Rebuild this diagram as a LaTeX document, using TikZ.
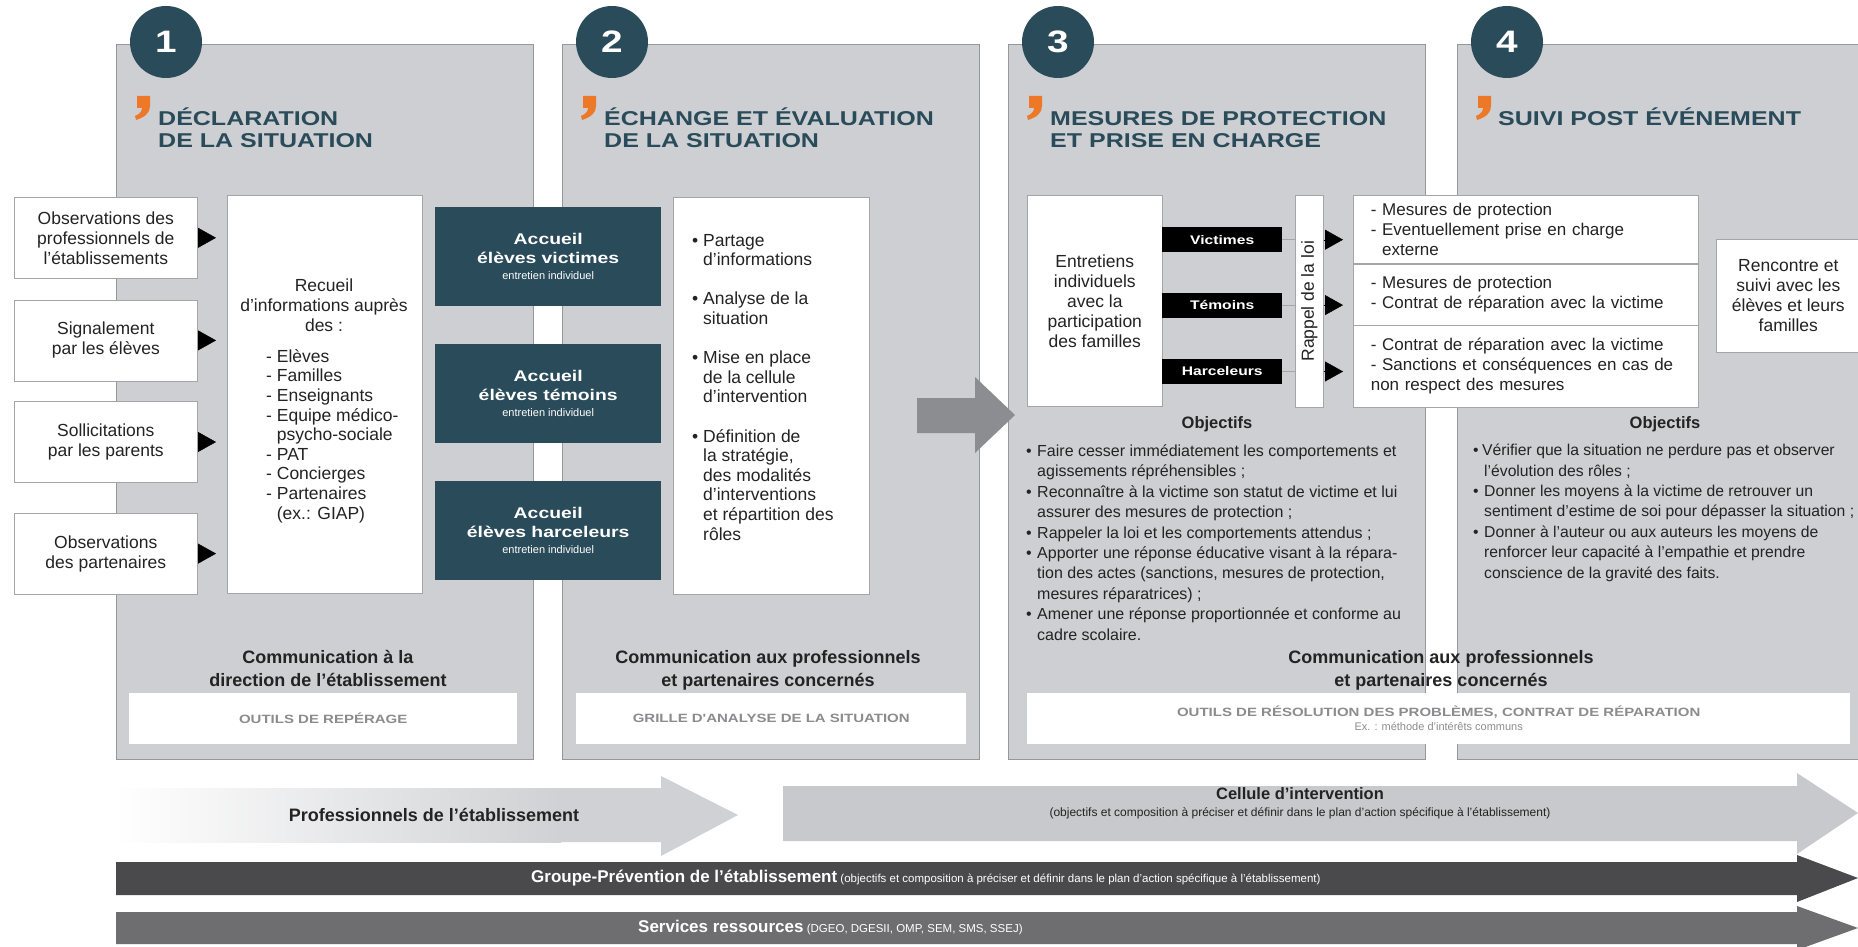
\documentclass[tikz,border=0pt]{standalone}
\usepackage{fontspec}
\setmainfont{Liberation Sans}
\newfontfamily\widefont[FakeStretch=1.25]{Liberation Sans}
\usetikzlibrary{positioning,arrows.meta}

\definecolor{panelfill}{RGB}{206,207,211}
\definecolor{panelline}{RGB}{150,151,154}
\definecolor{slate}{RGB}{42,75,90}
\definecolor{commaorange}{RGB}{236,120,40}
\definecolor{txt}{RGB}{35,35,35}
\definecolor{boxline}{RGB}{165,165,168}
\definecolor{toolgray}{RGB}{140,140,143}
\definecolor{bigarrow}{RGB}{140,141,145}
\definecolor{bandlight}{RGB}{208,209,212}
\definecolor{bandcell}{RGB}{200,201,204}
\definecolor{banddark}{RGB}{74,74,76}
\definecolor{bandmid}{RGB}{110,110,113}

\newlength{\bulw}
\setlength{\bulw}{11pt}
\newcommand{\bitem}{\makebox[\bulw][l]{\textbullet}}
\newcommand{\bcont}{\hspace*{\bulw}}

\begin{document}
\begin{tikzpicture}[x=1pt,y=-1pt,
  panel/.style={draw=panelline, fill=panelfill, line width=0.8pt, anchor=north west, minimum width=417pt, minimum height=715pt, inner sep=0pt},
  numcirc/.style={circle, fill=slate, text=white, minimum size=72pt, inner sep=0pt, font=\widefont\bfseries\fontsize{31}{31}\selectfont},
  ptitle/.style={anchor=base west, align=left, inner sep=0pt, text=slate, font=\widefont\bfseries\fontsize{20}{22}\selectfont},
  wbox/.style={draw=boxline, fill=white, line width=0.6pt, anchor=north west, inner sep=0pt, align=center, text=txt, font=\fontsize{17.5}{20}\selectfont},
  accueil/.style={fill=slate, text=white, anchor=north west, minimum width=226pt, minimum height=99pt, inner sep=0pt, align=center, font=\widefont\bfseries\fontsize{15.5}{19}\selectfont},
  rolebox/.style={fill=black, text=white, anchor=north west, minimum width=120pt, minimum height=25pt, inner sep=0pt, font=\widefont\bfseries\fontsize{12.5}{14}\selectfont},
  tri/.style={draw=black, line width=0.4pt, -{Triangle[length=18pt,width=20pt]}},
  linkline/.style={draw=gray!70, line width=0.5pt},
  toolbox/.style={fill=white, anchor=north west, minimum height=51pt, inner sep=0pt, align=center, text=toolgray, font=\widefont\bfseries\fontsize{12}{16}\selectfont},
  comm/.style={anchor=base, align=center, text=txt, font=\bfseries\fontsize{18}{23}\selectfont},
  objhead/.style={text=txt, font=\bfseries\fontsize{16.5}{20}\selectfont},
  objlist/.style={anchor=base west, align=left, inner sep=0pt, text=txt, font=\fontsize{16}{20.4}\selectfont},
  bodytext/.style={anchor=base west, align=left, inner sep=0pt, text=txt, font=\fontsize{17.5}{19.6}\selectfont},
]
\useasboundingbox (0,0) rectangle (1858,947);
\clip (0,0) rectangle (1858,947);
\fill[white] (0,0) rectangle (1858,947);

% the four steps (multi-line nodes sit on their last baseline)
\foreach \i/\x in {1/116,2/562,3/1008,4/1457}{
  \node[panel] (p\i) at (\x,44) {};
  \node[numcirc] (n\i) at (\x+50,42) {\i};
  \fill[commaorange] (\x+21,96) -- (\x+34,96) -- (\x+34,106) .. controls (\x+34,113) and (\x+29,117) .. (\x+20,120)
    -- (\x+19,116) .. controls (\x+24,114) and (\x+26,111) .. (\x+26,108) -- (\x+21,108) -- cycle;
}
\node[ptitle] (h1) at (158,148) {DÉCLARATION\\DE LA SITUATION};
\node[ptitle] (h2) at (604,148) {ÉCHANGE ET ÉVALUATION\\DE LA SITUATION};
\node[ptitle] (h3) at (1050,148) {MESURES DE PROTECTION\\ET PRISE EN CHARGE};
\node[ptitle] (h4) at (1498,126) {SUIVI POST ÉVÉNEMENT};

% step 1
\node[wbox, minimum width=183pt, minimum height=81pt] (obs) at (14,197) {Observations des\\professionnels de\\l'établissements};
\node[wbox, minimum width=183pt, minimum height=81pt, below=21pt of obs] (sig) {Signalement\\par les élèves};
\node[wbox, minimum width=183pt, minimum height=81pt, below=20pt of sig] (sol) {Sollicitations\\par les parents};
\node[wbox, minimum width=183pt, minimum height=81pt, below=30pt of sol] (par) {Observations\\des partenaires};
\node[wbox, minimum width=195pt, minimum height=398pt] (rec) at (227,195) {};
\node[bodytext, anchor=base, align=center] (rech) at (324,331) {Recueil\\d'informations auprès\\des :};
\node[bodytext] (recl) at (266,519) {- Elèves\\- Familles\\- Enseignants\\- Equipe médico-\\\phantom{- }psycho-sociale\\- PAT\\- Concierges\\- Partenaires\\\phantom{- }(ex.: GIAP)};
\foreach \s in {obs,sig,sol,par}
  \draw[tri, shorten >=11pt] (\s.east) -- (\s.east -| rec.west);

\node[accueil] (acv) at (435,207) {Accueil\\élèves victimes\\[-3pt]{\normalfont\fontsize{11}{13}\selectfont entretien individuel}};
\node[accueil, below=37pt of acv] (act) {Accueil\\élèves témoins\\[-3pt]{\normalfont\fontsize{11}{13}\selectfont entretien individuel}};
\node[accueil, below=38pt of act] (ach) {Accueil\\élèves harceleurs\\[-3pt]{\normalfont\fontsize{11}{13}\selectfont entretien individuel}};

% step 2
\node[wbox, minimum width=196pt, minimum height=397pt] (ana) at (673,197) {};
\node[bodytext] (anal) at (692,540) {\bitem Partage\\\bcont d'informations\\[19.6pt]
  \bitem Analyse de la\\\bcont situation\\[19.6pt]
  \bitem Mise en place\\\bcont de la cellule\\\bcont d'intervention\\[19.6pt]
  \bitem Définition de\\\bcont la stratégie,\\\bcont des modalités\\\bcont d'interventions\\\bcont et répartition des\\\bcont rôles};
\fill[bigarrow] (917,398) -- (975,398) -- (975,377) -- (1015,415) -- (975,453) -- (975,433) -- (917,433) -- cycle;

% step 3
\node[wbox, minimum width=135pt, minimum height=211pt] (ent) at (1027,195) {Entretiens\\individuels\\avec la\\participation\\des familles};
\node[rolebox] (vic) at (1162,227) {Victimes};
\node[rolebox, below=40pt of vic] (tem) {Témoins};
\node[rolebox, below=41pt of tem] (har) {Harceleurs};
\node[wbox, minimum width=28pt, minimum height=212pt] (rap) at (1295,195) {};
\node[rotate=90, text=txt, font=\fontsize{17.5}{20}\selectfont] (rapt) at (rap.center) {Rappel de la loi};
\node[wbox, font=\fontsize{17}{20}\selectfont, align=left, text width=310pt, inner xsep=17.5pt, minimum height=68pt] (row1) at (1353,195)
  {- Mesures de protection\\- Eventuellement prise en charge\\\phantom{- }externe};
\node[wbox, font=\fontsize{17}{20}\selectfont, align=left, text width=310pt, inner xsep=17.5pt, minimum height=61pt, below=0pt of row1] (row2)
  {- Mesures de protection\\- Contrat de réparation avec la victime};
\node[wbox, font=\fontsize{17}{20}\selectfont, align=left, text width=310pt, inner xsep=17.5pt, minimum height=82pt, below=0pt of row2] (row3)
  {- Contrat de réparation avec la victime\\- Sanctions et conséquences en cas de\\non respect des mesures};
\foreach \r/\w in {vic/row1,tem/row2,har/row3}{
  \draw[linkline] (\r.east) -- (\r.east -| rap.west);
  \draw[tri, shorten >=10pt] (\r.east -| rap.east) -- (\r.east -| \w.west);
}

\node[objhead] (o3h) at (1217,424) {Objectifs};
\node[objlist] (o3) at (1026,640) {\bitem Faire cesser immédiatement les comportements et\\
  \bcont agissements répréhensibles ;\\
  \bitem Reconnaître à la victime son statut de victime et lui\\
  \bcont assurer des mesures de protection ;\\
  \bitem Rappeler la loi et les comportements attendus ;\\
  \bitem Apporter une réponse éducative visant à la répara-\\
  \bcont tion des actes (sanctions, mesures de protection,\\
  \bcont mesures réparatrices) ;\\
  \bitem Amener une réponse proportionnée et conforme au\\
  \bcont cadre scolaire.};

% step 4
\node[wbox, minimum width=144pt, minimum height=113pt] (renc) at (1716,239) {Rencontre et\\suivi avec les\\élèves et leurs\\familles};
\node[objhead] (o4h) at (1665,424) {Objectifs};
\node[objlist, font=\fontsize{15.7}{20.4}\selectfont] (o4) at (1473,578) {\setlength{\bulw}{9pt}\bitem Vérifier que la situation ne perdure pas et observer\\
  \bcont l'évolution des rôles ;\\
  \bitem Donner les moyens à la victime de retrouver un\\
  \bcont sentiment d'estime de soi pour dépasser la situation ;\\
  \bitem Donner à l'auteur ou aux auteurs les moyens de\\
  \bcont renforcer leur capacité à l'empathie et prendre\\
  \bcont conscience de la gravité des faits.};

% communication and tools
\node[comm] (c1) at (328,686) {Communication à la\\direction de l'établissement};
\node[comm] (c2) at (768,686) {Communication aux professionnels\\et partenaires concernés};
\node[comm] (c3) at (1441,686) {Communication aux professionnels\\et partenaires concernés};
\node[toolbox, minimum width=388pt] (t1) at (129,693) {OUTILS DE REPÉRAGE};
\node[toolbox, minimum width=390pt] (t2) at (576,693) {GRILLE D'ANALYSE DE LA SITUATION};
\node[toolbox, minimum width=823pt] (t3) at (1027,693) {OUTILS DE RÉSOLUTION DES PROBLÈMES, CONTRAT DE RÉPARATION\\[-2pt]
  {\normalfont\fontsize{11}{13}\selectfont Ex. : méthode d'intérêts communs}};

% actors
\shade[left color=white, right color=bandlight] (116,788) rectangle (561,842);
\fill[bandlight] (560,788) -- (661,788) -- (661,776) -- (738,815) -- (661,856) -- (661,842) -- (560,842) -- cycle;
\node[text=txt, font=\bfseries\fontsize{18}{20}\selectfont] (prof) at (434,815) {Professionnels de l'établissement};
\fill[bandcell] (783,786) -- (1797,786) -- (1797,773) -- (1858,813) -- (1797,854) -- (1797,841) -- (783,841) -- cycle;
\node[align=center, text=txt, font=\fontsize{12}{17}\selectfont] (cel) at (1300,803) {{\bfseries\fontsize{16.5}{18}\selectfont Cellule d'intervention}\\(objectifs et composition à préciser et définir dans le plan d'action spécifique à l'établissement)};
\fill[banddark] (116,862) -- (1797,862) -- (1797,855) -- (1858,878) -- (1797,902) -- (1797,895) -- (116,895) -- cycle;
\node[anchor=west, inner sep=0pt, text=white, font=\fontsize{11.5}{14}\selectfont] (grp) at (531,878) {{\bfseries\fontsize{17}{20}\selectfont Groupe-Prévention de l'établissement} (objectifs et composition à préciser et définir dans le plan d'action spécifique à l'établissement)};
\fill[bandmid] (116,912) -- (1797,912) -- (1797,906) -- (1858,928) -- (1797,950) -- (1797,944) -- (116,944) -- cycle;
\node[anchor=west, inner sep=0pt, text=white, font=\fontsize{11.5}{14}\selectfont] (srv) at (638,928) {{\bfseries\fontsize{17}{20}\selectfont Services ressources} (DGEO, DGESII, OMP, SEM, SMS, SSEJ)};
\end{tikzpicture}
\end{document}
